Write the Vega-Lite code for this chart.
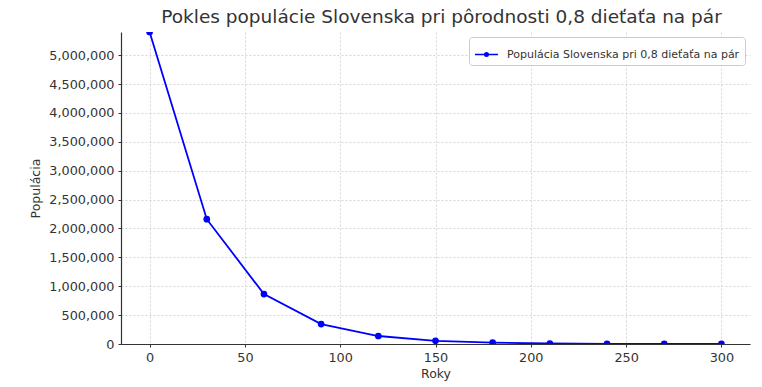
{
  "$schema": "https://vega.github.io/schema/vega-lite/v6.json",
  "width": 629,
  "height": 312,
  "autosize": "none",
  "padding": {"left": 121, "top": 32, "right": 12, "bottom": 43},
  "background": "white",
  "config": {
    "font": "DejaVu Sans",
    "view": {"stroke": null},
    "axis": {
      "labelFont": "DejaVu Sans",
      "titleFont": "DejaVu Sans",
      "labelFontSize": 12.8,
      "titleFontSize": 12.5,
      "labelColor": "#333333",
      "titleColor": "#333333",
      "titleFontWeight": "normal",
      "domainColor": "#333333",
      "domainWidth": 1.2,
      "tickColor": "#333333",
      "tickSize": 3,
      "gridColor": "#cccccc",
      "gridDash": [2, 2],
      "gridWidth": 0.8,
      "labelPadding": 4
    }
  },
  "title": {
    "text": "Pokles populácie Slovenska pri pôrodnosti 0,8 dieťaťa na pár",
    "font": "DejaVu Sans",
    "fontSize": 18.5,
    "fontWeight": "normal",
    "color": "#333333",
    "anchor": "middle",
    "dx": 6,
    "offset": 6
  },
  "data": {
    "values": [
      {"rok": 0, "populacia": 5400000, "seria": "Populácia Slovenska pri 0,8 dieťaťa na pár"},
      {"rok": 30, "populacia": 2160000, "seria": "Populácia Slovenska pri 0,8 dieťaťa na pár"},
      {"rok": 60, "populacia": 864000, "seria": "Populácia Slovenska pri 0,8 dieťaťa na pár"},
      {"rok": 90, "populacia": 345600, "seria": "Populácia Slovenska pri 0,8 dieťaťa na pár"},
      {"rok": 120, "populacia": 138240, "seria": "Populácia Slovenska pri 0,8 dieťaťa na pár"},
      {"rok": 150, "populacia": 55296, "seria": "Populácia Slovenska pri 0,8 dieťaťa na pár"},
      {"rok": 180, "populacia": 22118, "seria": "Populácia Slovenska pri 0,8 dieťaťa na pár"},
      {"rok": 210, "populacia": 8847, "seria": "Populácia Slovenska pri 0,8 dieťaťa na pár"},
      {"rok": 240, "populacia": 3539, "seria": "Populácia Slovenska pri 0,8 dieťaťa na pár"},
      {"rok": 270, "populacia": 1416, "seria": "Populácia Slovenska pri 0,8 dieťaťa na pár"},
      {"rok": 300, "populacia": 566, "seria": "Populácia Slovenska pri 0,8 dieťaťa na pár"}
    ]
  },
  "encoding": {
    "x": {
      "field": "rok",
      "type": "quantitative",
      "title": "Roky",
      "scale": {"domain": [-15, 315], "nice": false, "zero": false},
      "axis": {"values": [0, 50, 100, 150, 200, 250, 300], "titlePadding": 4}
    },
    "y": {
      "field": "populacia",
      "type": "quantitative",
      "title": "Populácia",
      "scale": {"domain": [0, 5400000], "nice": false},
      "axis": {
        "values": [0, 500000, 1000000, 1500000, 2000000, 2500000, 3000000, 3500000, 4000000, 4500000, 5000000],
        "format": ",d",
        "titlePadding": 6
      }
    },
    "color": {
      "field": "seria",
      "type": "nominal",
      "scale": {"range": ["#0000ff"]},
      "legend": {
        "title": null,
        "orient": "top-right",
        "offset": 5,
        "labelFont": "DejaVu Sans",
        "labelFontSize": 11,
        "labelColor": "#333333",
        "labelLimit": 0,
        "labelOffset": 8,
        "symbolType": "M-1,0H1M0.15,0A0.15,0.15 0 1 1 -0.15,0A0.15,0.15 0 1 1 0.15,0Z",
        "symbolSize": 529,
        "symbolStrokeWidth": 1.6,
        "symbolFillColor": "#0000ff",
        "strokeColor": "#cccccc",
        "fillColor": "white",
        "cornerRadius": 3,
        "padding": 5
      }
    }
  },
  "layer": [
    {"mark": {"type": "line", "strokeWidth": 1.8, "clip": true}},
    {"mark": {"type": "point", "filled": true, "size": 45, "opacity": 1, "clip": true}}
  ]
}
